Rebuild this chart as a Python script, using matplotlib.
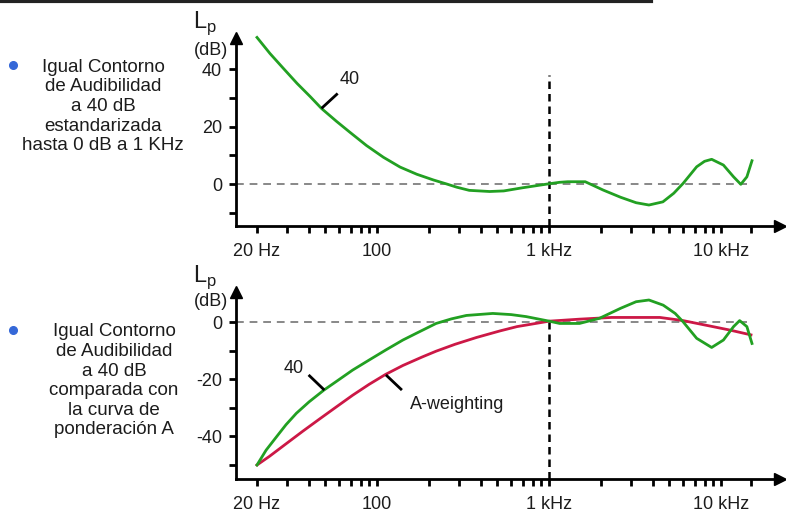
import numpy as np
import matplotlib
matplotlib.use("Agg")
import matplotlib.pyplot as plt
from matplotlib.lines import Line2D

plt.rcParams['font.family'] = ['Liberation Sans', 'DejaVu Sans']
plt.rcParams['axes.unicode_minus'] = False

# 40-phon equal loudness contour, normalised to 0 dB at 1 kHz
contour_freq = [20, 23.8, 28.5, 34.2, 40.8, 47.4, 58, 69.4, 86.6, 108.7, 135.8,
                169.9, 212.5, 253.8, 290, 343, 450, 544, 700, 1000, 1150, 1280,
                1620, 2060, 2600, 3200, 3800, 4580, 5300, 6000, 7200, 8000, 8800,
                10300, 11800, 13000, 14100, 15100]
contour_db = [51.0, 45.4, 40.2, 35.0, 30.4, 26.3, 21.8, 18.0, 13.4, 9.3, 5.9,
              3.4, 1.4, 0.0, -1.1, -2.2, -2.6, -2.4, -1.3, 0.1, 0.6, 0.8,
              0.8, -2.1, -4.6, -6.5, -7.3, -6.2, -3.2, 0.2, 6.0, 7.9, 8.6,
              6.6, 2.5, -0.1, 2.5, 8.1]

# same contour inverted, compared with A-weighting
inv_freq = [20, 22.6, 26, 29.5, 33.9, 40.2, 49, 57.5, 72, 89.7, 112, 141, 168,
            220, 270, 330, 470, 600, 734, 1000, 1150, 1500, 1960, 2600, 3200,
            3800, 4600, 5400, 6000, 7200, 8800, 10300, 11800, 12800, 14100, 15100]
inv_db = [-50.0, -44.8, -40.1, -35.9, -31.9, -27.9, -23.8, -20.9, -16.8, -13.3,
          -9.8, -6.3, -4.0, -0.5, 1.1, 2.3, 3.0, 2.6, 1.9, 0.3, -0.5, -0.5, 1.3,
          4.8, 7.1, 7.7, 5.9, 3.0, 0.1, -5.7, -8.9, -6.3, -1.6, 0.5, -1.6, -7.5]

aw_freq = [20, 23.6, 29.5, 36.9, 46, 57.5, 72, 89.7, 112, 141, 183, 220, 283,
           378, 518, 650, 1000, 1500, 2300, 4400, 6000, 8600, 11200, 14900]
aw_db = [-50.0, -47.0, -42.6, -38.2, -34.0, -29.8, -25.6, -21.8, -18.3, -15.2,
         -12.2, -10.2, -7.8, -5.4, -3.1, -1.6, 0.3, 1.0, 1.6, 1.6, 0.5, -1.4,
         -2.8, -4.5]

major_ticks = [20, 100, 1000, 10000]
major_labels = ['20 Hz', '100', '1 kHz', '10 kHz']
minor_ticks = [30, 40, 50, 60, 70, 80, 90, 200, 300, 400, 500, 600, 700, 800, 900,
               2000, 3000, 4000, 5000, 6000, 7000, 8000, 9000, 15000]

GREEN = '#22a022'
RED = '#cc1846'
TXT = '#1c1c1c'

W, H = 786, 512
fig = plt.figure(figsize=(W / 100, H / 100), dpi=100)


def px_box(x0, y0, x1, y1):
    # pixel box (top-left origin) -> figure fraction rect
    return [x0 / W, 1 - y1 / H, (x1 - x0) / W, (y1 - y0) / H]


def style_axes(ax, ylim, yticks, yminor, db_y):
    ax.set_xscale('log')
    ax.set_xlim(15.1, 21970)
    ax.set_ylim(*ylim)
    for s in ('top', 'right'):
        ax.spines[s].set_visible(False)
    for s in ('left', 'bottom'):
        ax.spines[s].set_linewidth(2)
    ax.set_xticks(major_ticks)
    ax.set_xticklabels(major_labels)
    ax.set_xticks(minor_ticks, minor=True)
    ax.xaxis.set_minor_formatter(plt.NullFormatter())
    ax.set_yticks(yticks)
    ax.set_yticks(yminor, minor=True)
    ax.tick_params(axis='both', which='both', direction='out', length=5, width=2,
                   labelsize=13, labelcolor=TXT)
    ax.tick_params(axis='x', pad=7)
    ax.tick_params(axis='y', pad=5)
    ax.patch.set_alpha(0)
    # arrow heads on both axes
    ax.plot(1, 0, '>', color='k', ms=8, transform=ax.transAxes, clip_on=False)
    ax.plot(0, 1, '^', color='k', ms=8, transform=ax.transAxes, clip_on=False)
    # Lp (dB) label
    ax.text(-0.079, 1.053, r'L$_\mathregular{p}$', transform=ax.transAxes,
            fontsize=17, color=TXT, ha='left', va='baseline')
    ax.text(-0.015, db_y, '(dB)', transform=ax.transAxes, fontsize=13,
            color=TXT, ha='right', va='center')


def leader(ax, f0, v0, f1, v1):
    ax.plot([f0, f1], [v0, v1], color='k', lw=2, solid_capstyle='butt')


# ---- top panel ----
ax1 = fig.add_axes(px_box(236, 38, 780, 226))
style_axes(ax1, (-14.6, 50.8), [0, 20, 40], [-10, 10, 30], 0.936)
ax1.hlines(0, 15.1, 14200, colors='#888888', lw=1.4, linestyles=(0, (4, 3)))
ax1.vlines(1000, -14.6, 37.9, colors='k', lw=1.8, linestyles=(0, (3, 2)))
ax1.plot(contour_freq, contour_db, color=GREEN, lw=2, clip_on=False)
leader(ax1, 47.4, 26.3, 58.9, 31.5)
ax1.text(69.3, 36.3, '40', fontsize=13, color=TXT, ha='center', va='center')

# ---- bottom panel ----
ax2 = fig.add_axes(px_box(236, 292, 780, 479))
style_axes(ax2, (-54.9, 10.5), [-40, -20, 0], [-50, -30, -10], 0.947)
ax2.hlines(0, 15.1, 14200, colors='#888888', lw=1.4, linestyles=(0, (4, 3)))
ax2.vlines(1000, -54.9, 0, colors='k', lw=1.8, linestyles=(0, (3, 2)))
ax2.plot(aw_freq, aw_db, color=RED, lw=2)
ax2.plot(inv_freq, inv_db, color=GREEN, lw=2)
leader(ax2, 39.9, -18.5, 49.3, -23.8)
ax2.text(32.8, -16.1, '40', fontsize=13, color=TXT, ha='center', va='center')
leader(ax2, 112.4, -18.5, 139.2, -23.8)
ax2.text(155, -29.0, 'A-weighting', fontsize=13, color=TXT, ha='left', va='center')

# ---- side notes ----
top_note = "Igual Contorno\nde Audibilidad\na 40 dB\nestandarizada\nhasta 0 dB a 1 KHz"
bot_note = "Igual Contorno\nde Audibilidad\na 40 dB\ncomparada con\nla curva de\nponderación A"
fig.text(103 / W, 1 - 106.5 / H, top_note, ha='center', va='center', fontsize=13.5,
         color=TXT, linespacing=1.2, multialignment='center')
fig.text(114 / W, 1 - 381 / H, bot_note, ha='center', va='center', fontsize=13.5,
         color=TXT, linespacing=1.2, multialignment='center')
for yb in (65, 330):
    fig.add_artist(Line2D([13 / W], [1 - yb / H], marker='o', ms=5.5,
                          color='#3568d8', ls='none'))

# heavy rule along the top edge
fig.add_artist(Line2D([0, 651 / W], [1 - 1.2 / H, 1 - 1.2 / H], color='#222222', lw=3))

fig.savefig('out.png', dpi=100)
